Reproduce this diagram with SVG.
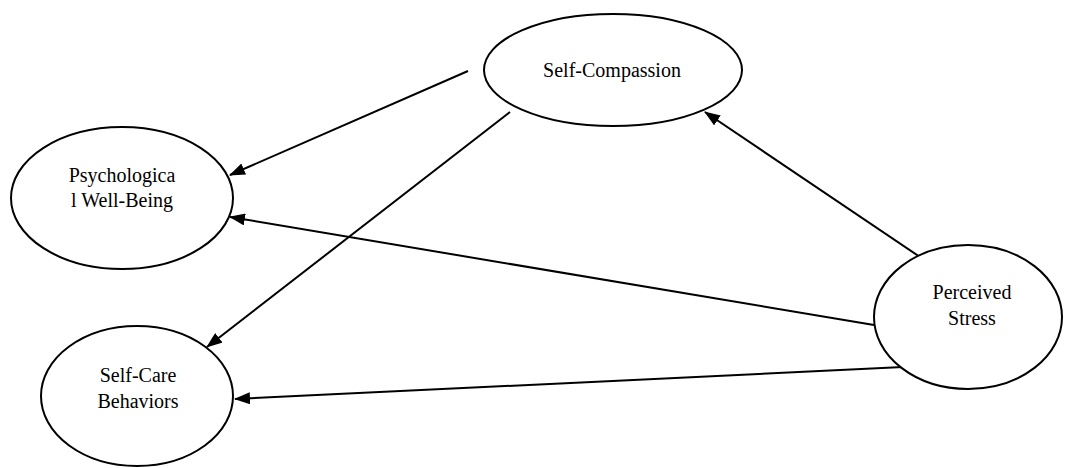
<svg xmlns="http://www.w3.org/2000/svg" width="1070" height="468" viewBox="0 0 1070 468">
<style>
.n{fill:#fff;stroke:#000;stroke-width:2}
.t{font-family:"Liberation Serif","Times New Roman",serif;font-size:20px;fill:#000;text-anchor:middle}
.e{stroke:#000;stroke-width:2;fill:none;marker-end:url(#ah)}
</style>
<defs>
<marker id="ah" markerWidth="16" markerHeight="12" refX="15" refY="6" orient="auto" markerUnits="userSpaceOnUse">
<path d="M0,0 L16,6 L0,12 Z" fill="#000"/>
</marker>
</defs>
<rect width="1070" height="468" fill="#fff"/>
<g id="edges">
<line class="e" x1="468" y1="71" x2="230" y2="175"/>
<line class="e" x1="510" y1="112" x2="207" y2="347"/>
<line class="e" x1="920" y1="257" x2="705" y2="112"/>
<line class="e" x1="874" y1="325" x2="230" y2="217"/>
<line class="e" x1="903" y1="367" x2="235" y2="399"/>
</g>
<g id="self-compassion">
<ellipse class="n" cx="613" cy="70" rx="129" ry="56"/>
<text class="t" x="612" y="77">Self-Compassion</text>
</g>
<g id="psychological-well-being">
<ellipse class="n" cx="122" cy="198" rx="111" ry="71"/>
<text class="t" x="122" y="182">Psychologica</text>
<text class="t" x="122" y="207">l Well-Being</text>
</g>
<g id="self-care-behaviors">
<ellipse class="n" cx="137" cy="396" rx="96" ry="70"/>
<text class="t" x="138" y="382">Self-Care</text>
<text class="t" x="138" y="408">Behaviors</text>
</g>
<g id="perceived-stress">
<ellipse class="n" cx="968" cy="317" rx="94" ry="72"/>
<text class="t" x="972" y="299">Perceived</text>
<text class="t" x="972" y="325">Stress</text>
</g>
</svg>
